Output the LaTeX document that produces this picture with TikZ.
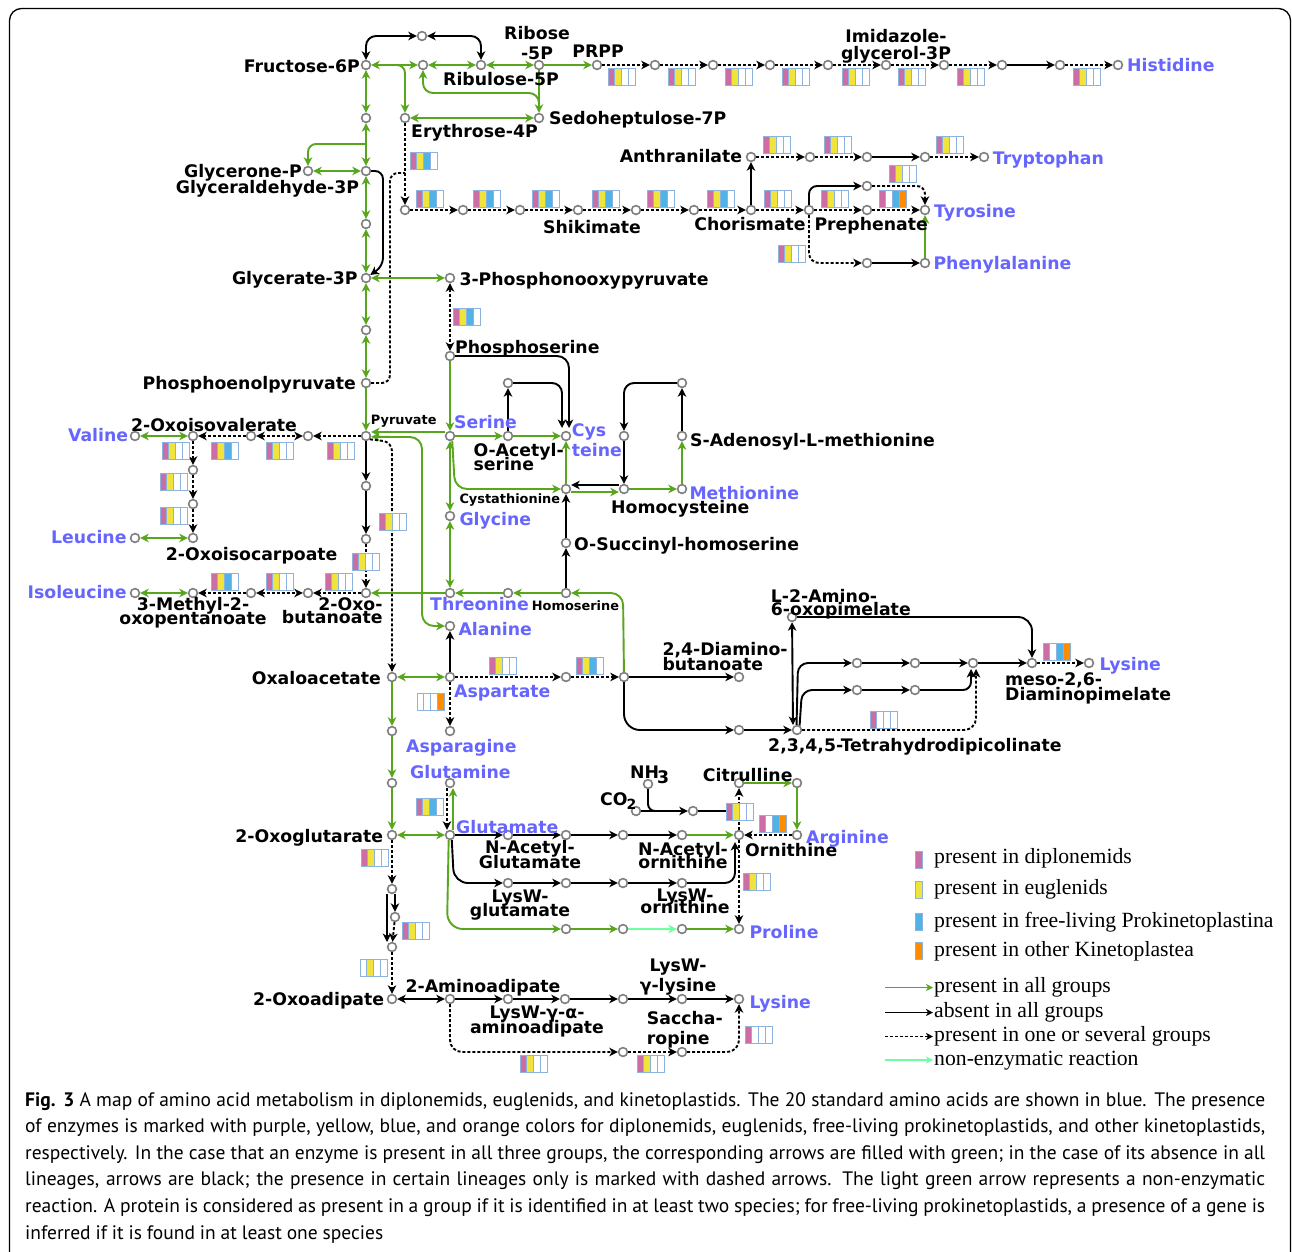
\documentclass[tikz,border=0pt]{standalone}
\usepackage{fontspec}
\setmainfont{DejaVu Sans}
\newfontfamily\dvs{DejaVu Sans}
\newfontfamily\legf{Liberation Serif}
\newfontfamily\capf{PT Sans}
\usetikzlibrary{arrows.meta}
\definecolor{grn}{RGB}{88,165,30}
\definecolor{lgrn}{RGB}{110,255,160}
\definecolor{aab}{RGB}{102,102,255}
\definecolor{cP}{RGB}{204,110,165}
\definecolor{cY}{RGB}{240,228,60}
\definecolor{cB}{RGB}{80,178,230}
\definecolor{cO}{RGB}{255,140,0}
\definecolor{cW}{RGB}{255,255,255}
\definecolor{bbd}{RGB}{140,178,224}
\definecolor{mg}{RGB}{128,128,128}
\newcommand\lblfont{\dvs\bfseries\fontsize{17.3}{20.8}\selectfont}
\newcommand\smlfont{\dvs\bfseries\fontsize{12.9}{15}\selectfont}
\newcommand\legfont{\legf\fontsize{21.7}{26}\selectfont}
\newcommand\capfont{\capf\fontsize{19.5}{26}\selectfont\spaceskip=0.25em plus 0.4em minus 0.08em\relax}
\tikzset{
 mc/.style={circle,draw=mg,line width=1.6pt,fill=white,minimum size=8.8pt,inner sep=0pt},
 lab/.style={inner sep=0pt,font=\lblfont},
 blab/.style={lab,text=aab},
 slab/.style={inner sep=0pt,font=\smlfont},
 ln/.style={line width=1.9pt},
 gr/.style={ln,draw=grn},
 bk/.style={ln,draw=black},
 dt/.style={ln,draw=black,dash pattern=on 3pt off 2pt},
 lgr/.style={ln,draw=lgrn},
 swatch/.style={draw=bbd,line width=0.8pt,minimum width=6.5pt,minimum height=17pt,inner sep=0pt,anchor=north west},
 legtext/.style={anchor=base west,inner sep=0pt,font=\legfont},
 captext/.style={anchor=base west,inner sep=0pt,font=\capfont},
 >={Stealth[length=8.5pt,width=8.5pt,inset=2.5pt]},
 pics/ebox/.style n args={4}{code={
   \draw[bbd,line width=0.8pt,fill=#1] (0,0) rectangle ++(6.75,17);
   \draw[bbd,line width=0.8pt,fill=#2] (6.75,0) rectangle ++(6.75,17);
   \draw[bbd,line width=0.8pt,fill=#3] (13.5,0) rectangle ++(6.75,17);
   \draw[bbd,line width=0.8pt,fill=#4] (20.25,0) rectangle ++(6.75,17);
 }},
}
\begin{document}
\begin{tikzpicture}[x=1pt,y=-1pt]
\useasboundingbox (0,0) rectangle (1292,1251);
\fill[white] (0,0) rectangle (1292,1251);
\draw[line width=1.3pt,rounded corners=12pt] (9.5,1275) -- (9.5,8.5) -- (1290.5,8.5) -- (1290.5,1275);

% ---------- metabolite nodes ----------
\foreach \nm/\px/\py in {f6p/366/65, t36/422/36, r423/423/65, ru5p/481/65, r5p/539/65, prpp/597/65,
 h1/655/65, h2/713/65, h3/770/65, h4/828/65, igp/886/65, h6/944/65, h7/1002/65, h8/1060/65, his/1118/65,
 a118/366/118, e4p/405/118, s7p/539/118, gnp/308/171, g3p/366/171, a224/366/224, gla/366/278, php/450/278,
 dahp/405/210, s2/463/210, s3/520/210, s4/578/210, s5/636/210, s6/694/210, cho/751/210, pre/809/210, t867/867/210, tyr/925/210,
 ant/751/157, tr1/810/157, tr2/867/157, tr3/925/157, trp/984/157, y186/867/186, f263/867/263, phe/925/263,
 a330/366/330, pep/366/383, pyr/366/436,
 pser/450/356, ser/450/436, oas/508/436, o383/508/383, cys/566/436, cth/566/489, glyc/450/516, thr/450/593, t593/508/593, hser/566/593, osh/566/543,
 m383/682/383, m436/624/436, sam/682/436, hcy/624/489, met/682/489,
 val/135/436, v193/193/436, v251/251/436, v308/308/436, l470/193/470, l504/193/504, l538/193/538, leu/135/538,
 p486/366/486, p539/366/539, i366/366/593, i308/308/593, i251/251/593, i193/193/593, ile/135/593,
 ala/450/626, oaa/392/677, asp/450/677, as1/566/677, as2/624/677, dab/739/677, asn/450/731,
 o731/392/731, o783/392/783, og/392/835, gln/450/783, glu/450/835,
 thp1/739/730, thdp/797/730, aop/792/617,
 k1/857/663, k2/915/663, k3/973/663, dap/1032/663, lys1/1089/663, k4/857/690, k5/915/690,
 n1/508/835, n2/566/835, n3/623/835, n4/682/835, orn/739/835, arg/797/835,
 cit/739/783, c797/797/783, co2/636/811, nh3/648/784, cp/693/811,
 w1/508/883, w2/566/883, w3/623/883, w4/682/883,
 p1/566/929, p2/623/929, p3/682/929, pro/739/929,
 g889/392/889, g917/395/917, g947/392/947, oad/392/999,
 aad/450/999, l2/508/999, l3/565/999, l4/623/999, l5/682/999, lys2/739/999,
 sa1/623/1052, sac/682/1052}
 {\node[mc] (\nm) at (\px,\py) {};}

% ---------- top: pentose phosphate ----------
\draw[bk,<->,rounded corners=10] (f6p) -- (366,36) -- (t36);
\draw[bk,<->,rounded corners=10] (t36) -- (481,36) -- (ru5p);
\draw[gr,<->] (f6p) -- (r423);
\draw[gr,->,rounded corners=8] (394,65) -- (405,65) -- (e4p);
\draw[gr,<->] (r423) -- (ru5p);
\draw[gr,<->] (ru5p) -- (r5p);
\draw[gr,->] (r5p) -- (prpp);
\draw[gr,->] (r5p) -- (s7p);
\draw[gr,<-,rounded corners=10] (r423) -- (423,93) -- (539,93) -- (539,106);
\draw[gr,<->] (e4p) -- (s7p);
\draw[gr,<->] (f6p) -- (a118);
\draw[gr,<->] (a118) -- (g3p);
\draw[gr,->,rounded corners=8] (366,144) -- (308,144) -- (gnp);
\draw[gr,<->] (gnp) -- (g3p);
\draw[gr,<->] (g3p) -- (a224);
\draw[gr,<->] (a224) -- (gla);
\draw[bk,->,rounded corners=8] (g3p) -- (383,171) -- (383,266) -- (gla);
\draw[dt,->] (e4p) -- (dahp);
\draw[dt,rounded corners=8] (pep) -- (390,383) -- (390,173) -- (405,173);
% shikimate
\draw[dt,->] (dahp) -- (s2);
\draw[dt,->] (s2) -- (s3);
\draw[dt,->] (s3) -- (s4);
\draw[dt,->] (s4) -- (s5);
\draw[dt,->] (s5) -- (s6);
\draw[dt,->] (s6) -- (cho);
\draw[dt,->] (cho) -- (pre);
\draw[dt,->] (pre) -- (t867);
\draw[dt,->] (t867) -- (tyr);
\draw[bk,->] (cho) -- (ant);
\draw[dt,->] (ant) -- (tr1);
\draw[dt,->] (tr1) -- (tr2);
\draw[bk,->] (tr2) -- (tr3);
\draw[dt,->] (tr3) -- (trp);
\draw[bk,->,rounded corners=8] (pre) -- (809,186) -- (y186);
\draw[dt,->,rounded corners=8] (y186) -- (925,186) -- (tyr);
\draw[dt,->,rounded corners=10] (pre) -- (809,263) -- (f263);
\draw[bk,->] (f263) -- (phe);
\draw[gr,->] (phe) -- (tyr);
% histidine
\draw[dt,->] (prpp) -- (h1);
\draw[dt,->] (h1) -- (h2);
\draw[dt,->] (h2) -- (h3);
\draw[dt,->] (h3) -- (h4);
\draw[dt,->] (h4) -- (igp);
\draw[dt,->] (igp) -- (h6);
\draw[dt,->] (h6) -- (h7);
\draw[bk,->] (h7) -- (h8);
\draw[dt,->] (h8) -- (his);

% ---------- middle ----------
\draw[gr,<->] (gla) -- (php);
\draw[gr,<->] (gla) -- (a330);
\draw[gr,<->] (a330) -- (pep);
\draw[gr,->] (pep) -- (pyr);
\draw[dt,<->] (php) -- (pser);
\draw[gr,->] (pser) -- (ser);
\draw[bk,->,rounded corners=12] (pser) -- (569,356) -- (569,428);
\draw[gr,->] (ser) -- (oas);
\draw[gr,->] (oas) -- (cys);
\draw[bk,->] (oas) -- (o383);
\draw[bk,->,rounded corners=10] (o383) -- (562,383) -- (562,428);
\draw[gr,->] ([yshift=4pt]ser.west) -- ([yshift=4pt]pyr.east);
\draw[gr,<->,rounded corners=12] (pyr.-10) -- (422,437) -- (422,626) -- (ala);
\draw[dt,->,rounded corners=9] (pyr.-40) -- (392,442) -- (oaa);
\draw[dt,->] (pyr) -- (v308);
\draw[dt,<->] (v251) -- (v308);
\draw[dt,->] (v251) -- (v193);
\draw[gr,<->] (val) -- (v193);
\draw[dt,->] (v193) -- (l470);
\draw[dt,->] (l470) -- (l504);
\draw[dt,->] (l504) -- (l538);
\draw[gr,<->] (leu) -- (l538);
\draw[bk,->] (pyr) -- (p486);
\draw[bk,->] (p486) -- (p539);
\draw[dt,->] (p539) -- (i366);
\draw[dt,->] (i366) -- (i308);
\draw[dt,<->] (i251) -- (i308);
\draw[dt,->] (i251) -- (i193);
\draw[gr,<->] (ile) -- (i193);
\draw[gr,->] (thr) -- (i366);
\draw[gr,<->] (ser) -- (glyc);
\draw[gr,->,rounded corners=12] (ser.-65) -- (455,489) -- (cth);
\draw[gr,<->] (glyc) -- (thr);
\draw[gr,->] (hser) -- (t593);
\draw[gr,->] (t593) -- (thr);
\draw[bk,->] (hser) -- (osh);
\draw[bk,->] (osh) -- (cth);
\draw[gr,->] (cth) -- (cys);
\draw[bk,->] ([yshift=4pt]hcy.west) -- ([yshift=4pt]cth.east);
\draw[gr,->] ([yshift=-3pt]cth.east) -- ([yshift=-3pt]hcy.west);
\draw[gr,->] (hcy) -- (met);
\draw[gr,->] (met) -- (sam);
\draw[bk,->] (sam) -- (m383);
\draw[bk,->,rounded corners=10] (m383) -- (624,383) -- (m436);
\draw[bk,->] (m436) -- (hcy);
\draw[gr,->,rounded corners=12] (as2) -- (623,593) -- (hser);

% ---------- lower ----------
\draw[gr,<->] (oaa) -- (asp);
\draw[bk,->] (asp) -- (ala);
\draw[dt,->] (asp) -- (as1);
\draw[dt,->] (as1) -- (as2);
\draw[bk,->] (as2) -- (dab);
\draw[bk,->,rounded corners=16] (as2) -- (624,730) -- (thp1);
\draw[bk,->] (thp1) -- (thdp);
\draw[dt,->] (asp) -- (asn);
\draw[gr,->] (oaa) -- (o731);
\draw[gr,->] (o731) -- (o783);
\draw[gr,->] (o783) -- (og);
\draw[gr,<->] (og) -- (glu);
\draw[dt,->] ([xshift=-3pt]gln.south) -- ([xshift=-3pt]glu.north);
\draw[gr,->] ([xshift=3pt]glu.north) -- ([xshift=3pt]gln.south);
\draw[dt,->] (og) -- (g889);
\draw[bk,->] ([xshift=3pt]g889.south) -- (g917);
\draw[bk,->] ([xshift=-5pt]g889.south) -- (387,942);
\draw[dt,->] (g917) -- (g947);
\draw[dt,->] (g947) -- (oad);
\draw[bk,<->] (oad) -- (aad);
\draw[bk,->] (aad) -- (l2);
\draw[bk,->] (l2) -- (l3);
\draw[bk,->] (l3) -- (l4);
\draw[bk,->] (l4) -- (l5);
\draw[bk,->] (l5) -- (lys2);
\draw[dt,->,rounded corners=12] (aad) -- (450,1052) -- (sa1);
\draw[dt,->] (sa1) -- (sac);
\draw[dt,->,rounded corners=12] (sac) -- (739,1052) -- (lys2);
% urea / arginine
\draw[bk,->] (glu) -- (n1);
\draw[bk,->] (n1) -- (n2);
\draw[bk,->] (n2) -- (n3);
\draw[bk,->] (n3) -- (n4);
\draw[gr,->] (n4) -- (orn);
\draw[dt,->] (arg) -- (orn);
\draw[dt,->] (orn) -- (cit);
\draw[gr,->] (cit) -- (c797);
\draw[gr,->] (c797) -- (arg);
\draw[bk,rounded corners=7] (nh3) -- (648,811) -- (664,811);
\draw[bk,->] (co2) -- (cp);
\draw[bk] (cp) -- (739,811);
\draw[bk,->,rounded corners=14] (glu.-70) -- (454,883) -- (w1);
\draw[bk,->] (w1) -- (w2);
\draw[bk,->] (w2) -- (w3);
\draw[bk,->] (w3) -- (w4);
\draw[bk,->,rounded corners=10] (w4) -- (735,883) -- (735,842);
\draw[dt,->] (orn) -- (pro);
\draw[gr,->,rounded corners=16] (glu.-105) -- (447,929) -- (p1);
\draw[gr,->] (p1) -- (p2);
\draw[lgr,->] (p2) -- (p3);
\draw[gr,->] (p3) -- (pro);
% DAP lysine
\draw[bk,<->] (aop) -- (793,725);
\draw[bk,->,rounded corners=14] (aop) -- (1032,617) -- (dap);
\draw[bk,->,rounded corners=10] (thdp.95) -- (798,663) -- (k1);
\draw[bk,->,rounded corners=10] (thdp.60) -- (802,690) -- (k4);
\draw[bk,->] (k1) -- (k2);
\draw[bk,->] (k2) -- (k3);
\draw[bk,->] (k3) -- (dap);
\draw[dt,->] (dap) -- (lys1);
\draw[bk,->] (k4) -- (k5);
\draw[bk,->,rounded corners=8] (k5) -- (971,690) -- (971,669);
\draw[dt,->,rounded corners=12] (thdp) -- (976,730) -- (976,669);

% ---------- enzyme presence boxes ----------
\foreach \bx/\by/\qa/\qb/\qc/\qd in {
 410/152/cP/cY/cB/cW, 416/190/cP/cY/cB/cW, 473/190/cP/cY/cB/cW, 532/190/cP/cY/cB/cW, 592/190/cP/cY/cB/cW,
 647/190/cP/cY/cB/cW, 707/190/cP/cY/cB/cW, 764/190/cP/cY/cW/cW, 821/190/cP/cY/cW/cW, 879/190/cP/cW/cB/cO,
 889/165/cP/cY/cW/cW, 763/136/cP/cY/cW/cW, 824/136/cP/cY/cW/cW, 936/136/cP/cY/cW/cW, 778/245/cP/cY/cW/cW,
 608/68/cP/cY/cW/cW, 668/68/cP/cY/cW/cW, 725/68/cP/cY/cW/cW, 782/68/cP/cY/cW/cW, 842/68/cP/cY/cW/cW,
 898/68/cP/cY/cW/cW, 957/68/cP/cY/cW/cW, 1073/68/cP/cY/cW/cW,
 453/308/cP/cY/cB/cW, 327/442/cP/cY/cW/cW, 266/442/cP/cY/cW/cW, 211/442/cP/cY/cB/cW, 162/442/cP/cY/cW/cW,
 160/473/cP/cY/cW/cW, 160/507/cP/cY/cW/cW, 379/513/cP/cY/cW/cW, 352/553/cP/cY/cW/cW,
 211/573/cP/cY/cB/cW, 266/573/cP/cY/cW/cW, 325/573/cP/cY/cW/cW,
 489/657/cP/cY/cW/cW, 576/657/cP/cY/cB/cW, 417/693/cW/cW/cW/cO, 416/798/cP/cY/cB/cW, 361/849/cP/cY/cW/cW,
 402/922/cP/cY/cW/cW, 360/959/cW/cY/cW/cW, 870/711/cP/cW/cW/cW, 1043/643/cP/cW/cB/cO,
 759/815/cP/cW/cB/cO, 726/803/cP/cY/cW/cW, 743/873/cP/cY/cW/cW,
 520/1055/cP/cY/cW/cW, 637/1055/cP/cY/cW/cW, 745/1026/cP/cW/cW/cW}
 {\pic at (\bx,\by) {ebox={\qa}{\qb}{\qc}{\qd}};}

% ---------- labels ----------
\node[lab,anchor=base east] (tF6P) at (360,72) {Fructose-6P};
\node[lab,anchor=north,align=center] (tR5P) at (537,26) {Ribose\\[-0.8pt]-5P};
\node[lab,anchor=base] (tPRPP) at (598,57.7) {PRPP};
\node[lab,anchor=base west] (tRu5P) at (443,85.6) {Ribulose-5P};
\node[lab,anchor=base west] (tS7P) at (549,124.3) {Sedoheptulose-7P};
\node[lab,anchor=base west] (tE4P) at (411,137) {Erythrose-4P};
\node[lab,anchor=north,align=center] (tIGP) at (896,29.5) {Imidazole-\\[-4.5pt]glycerol-3P};
\node[lab,anchor=base east] (tGnP) at (302,177.3) {Glycerone-P};
\node[lab,anchor=base east] (tGAP) at (359.3,193.6) {Glyceraldehyde-3P};
\node[lab,anchor=base east] (tGla) at (357.7,284.6) {Glycerate-3P};
\node[lab,anchor=base west] (tPHP) at (459.3,285.6) {3-Phosphonooxypyruvate};
\node[lab,anchor=base east] (tAnt) at (742.3,162) {Anthranilate};
\node[lab,anchor=base] (tShi) at (592,233) {Shikimate};
\node[lab,anchor=base] (tCho) at (750,230.3) {Chorismate};
\node[lab,anchor=base west] (tPre) at (814.3,230.3) {Prephenate};
\node[lab,anchor=base west] (tPSer) at (455,353) {Phosphoserine};
\node[lab,anchor=base east] (tPEP) at (356,389.6) {Phosphoenolpyruvate};
\node[slab,anchor=base west] (tPyr) at (370.7,424.5) {Pyruvate};
\node[lab,anchor=base] (tOIV) at (214,431.3) {2-Oxoisovalerate};
\node[lab,anchor=base] (tOIC) at (251.7,560.6) {2-Oxoisocarpoate};
\node[lab,anchor=north,align=center] (tMOP) at (193,597.5) {3-Methyl-2-\\[-7.5pt]oxopentanoate};
\node[lab,anchor=north east,align=right] (tOB) at (382.7,597.5) {2-Oxo-\\[-7.5pt]butanoate};
\node[lab,anchor=north west,align=left] (tOAS) at (473.3,443.2) {O-Acetyl-\\[-7pt]serine};
\node[lab,anchor=base west] (tSAM) at (690,446.3) {S-Adenosyl-L-methionine};
\node[lab,anchor=base west] (tHcy) at (611,513) {Homocysteine};
\node[slab,anchor=base west] (tCth) at (459.3,503) {Cystathionine};
\node[lab,anchor=base west] (tOSH) at (574,550.3) {O-Succinyl-homoserine};
\node[slab,anchor=base west] (tHser) at (531.7,610) {Homoserine};
\node[lab,anchor=north west,align=left] (tAOP) at (770.7,588.7) {L-2-Amino-\\[-7pt]6-oxopimelate};
\node[lab,anchor=north west,align=left] (tDAB) at (662.3,642.5) {2,4-Diamino-\\[-6.1pt]butanoate};
\node[lab,anchor=base east] (tOAA) at (381,684.6) {Oxaloacetate};
\node[lab,anchor=base west] (tTHDP) at (768,751.3) {2,3,4,5-Tetrahydrodipicolinate};
\node[lab,anchor=north west,align=left] (tDAP) at (1005,672.5) {meso-2,6-\\[-5.8pt]Diaminopimelate};
\node[lab,anchor=base west] (tNH3) at (630,778) {NH\kern-2pt\raisebox{-5pt}{3}};
\node[lab,anchor=base west] (tCO2) at (600,805.6) {CO\kern-1pt\raisebox{-4pt}{\fontsize{14}{14}\selectfont 2}};
\node[lab,anchor=base west] (tCit) at (702.7,781.3) {Citrulline};
\node[lab,anchor=base east] (tOG) at (383.3,842.3) {2-Oxoglutarate};
\node[lab,anchor=north,align=center] (tNAG) at (530,840.5) {N-Acetyl-\\[-5.8pt]Glutamate};
\node[lab,anchor=north,align=center] (tNAO) at (683,842.2) {N-Acetyl-\\[-7.5pt]ornithine};
\node[lab,anchor=base west] (tOrn) at (745,856.3) {Ornithine};
\node[lab,anchor=north,align=center] (tLWG) at (520,889.2) {LysW-\\[-6.1pt]glutamate};
\node[lab,anchor=north,align=center] (tLWO) at (685,888.5) {LysW-\\[-8.3pt]ornithine};
\node[lab,anchor=base east] (tOAd) at (384.3,1005.6) {2-Oxoadipate};
\node[lab,anchor=base] (tAAd) at (483,992) {2-Aminoadipate};
\node[lab,anchor=north,align=center] (tLGA) at (537,1005.9) {LysW-γ-α-\\[-6.2pt]aminoadipate};
\node[lab,anchor=north,align=center] (tLGL) at (678,958.2) {LysW-\\[0pt]γ-lysine};
\node[lab,anchor=north west,align=left] (tSac) at (646.7,1011.5) {Saccha-\\[-0.8pt]ropine};
% amino acids (blue)
\node[blab,anchor=base west] (tHis) at (1127,71.3) {Histidine};
\node[blab,anchor=base west] (tTrp) at (992.7,164) {Tryptophan};
\node[blab,anchor=base west] (tTyr) at (934,217.3) {Tyrosine};
\node[blab,anchor=base west] (tPhe) at (933.3,269.6) {Phenylalanine};
\node[blab,anchor=base west] (tSer) at (454,428) {Serine};
\node[blab,anchor=north west,align=left] (tCys) at (571.7,423.2) {Cys\\[-0.8pt]teine};
\node[blab,anchor=base west] (tMet) at (689.3,499) {Methionine};
\node[blab,anchor=base west] (tGly) at (459.3,525.6) {Glycine};
\node[blab,anchor=base east] (tVal) at (128.3,441.3) {Valine};
\node[blab,anchor=base east] (tLeu) at (126.7,543.6) {Leucine};
\node[blab,anchor=base east] (tIle) at (126.7,598) {Isoleucine};
\node[blab,anchor=base west] (tThr) at (430,610.3) {Threonine};
\node[blab,anchor=base west] (tAla) at (458.3,635.6) {Alanine};
\node[blab,anchor=base west] (tAsp) at (454,697) {Aspartate};
\node[blab,anchor=base west] (tAsn) at (406,752) {Asparagine};
\node[blab,anchor=base west] (tGln) at (410,778) {Glutamine};
\node[blab,anchor=base west] (tGlu) at (456,833) {Glutamate};
\node[blab,anchor=base west] (tLys1) at (1099.3,670.6) {Lysine};
\node[blab,anchor=base west] (tArg) at (806,843) {Arginine};
\node[blab,anchor=base west] (tPro) at (749.3,938.6) {Proline};
\node[blab,anchor=base west] (tLys2) at (749.3,1008.6) {Lysine};

% ---------- legend ----------
\node[swatch,fill=cP] (sw1) at (915,851) {};
\node[swatch,fill=cY] (sw2) at (915,881) {};
\node[swatch,fill=cB] (sw3) at (915,913) {};
\node[swatch,fill=cO] (sw4) at (915,942) {};
\node[legtext] (lt1) at (934,863.3) {present in diplonemids};
\node[legtext] (lt2) at (934,894.3) {present in euglenids};
\node[legtext] (lt3) at (934,927.3) {present in free-living Prokinetoplastina};
\node[legtext] (lt4) at (934,956) {present in other Kinetoplastea};
\coordinate (la1) at (885,987.5); \coordinate (lb1) at (933,987.5);
\coordinate (la2) at (885,1012.5); \coordinate (lb2) at (933,1012.5);
\coordinate (la3) at (885,1036.5); \coordinate (lb3) at (933,1036.5);
\coordinate (la4) at (885,1060); \coordinate (lb4) at (933,1060);
\draw[draw=grn,line width=1.6pt,-{Stealth[length=7pt,width=7pt,inset=2pt]}] (la1) -- (lb1);
\draw[draw=black,line width=1.6pt,-{Stealth[length=7pt,width=7pt,inset=2pt]}] (la2) -- (lb2);
\draw[draw=black,line width=1.6pt,dash pattern=on 3pt off 2pt,-{Stealth[length=7pt,width=7pt,inset=2pt]}] (la3) -- (lb3);
\draw[draw=lgrn,line width=1.6pt,-{Stealth[length=7pt,width=7pt,inset=2pt]}] (la4) -- (lb4);
\node[legtext] (lt5) at (934,992.5) {present in all groups};
\node[legtext] (lt6) at (934,1017.5) {absent in all groups};
\node[legtext] (lt7) at (934,1041.5) {present in one or several groups};
\node[legtext] (lt8) at (934,1065) {non-enzymatic reaction};

% ---------- caption ----------
\node[captext] (c1) at (25,1106) {\makebox[1240pt][s]{\textbf{Fig. 3} A map of amino acid metabolism in diplonemids, euglenids, and kinetoplastids. The 20 standard amino acids are shown in blue. The presence}};
\node[captext] (c2) at (25,1132.6) {\makebox[1240pt][s]{of enzymes is marked with purple, yellow, blue, and orange colors for diplonemids, euglenids, free-living prokinetoplastids, and other kinetoplastids,}};
\node[captext] (c3) at (25,1159.2) {\makebox[1240pt][s]{respectively. In the case that an enzyme is present in all three groups, the corresponding arrows are filled with green; in the case of its absence in all}};
\node[captext] (c4) at (25,1185.8) {\makebox[1240pt][s]{lineages, arrows are black; the presence in certain lineages only is marked with dashed arrows. The light green arrow represents a non-enzymatic}};
\node[captext] (c5) at (25,1212.4) {\makebox[1240pt][s]{reaction. A protein is considered as present in a group if it is identified in at least two species; for free-living prokinetoplastids, a presence of a gene is}};
\node[captext] (c6) at (25,1239) {inferred if it is found in at least one species};
\end{tikzpicture}
\end{document}
